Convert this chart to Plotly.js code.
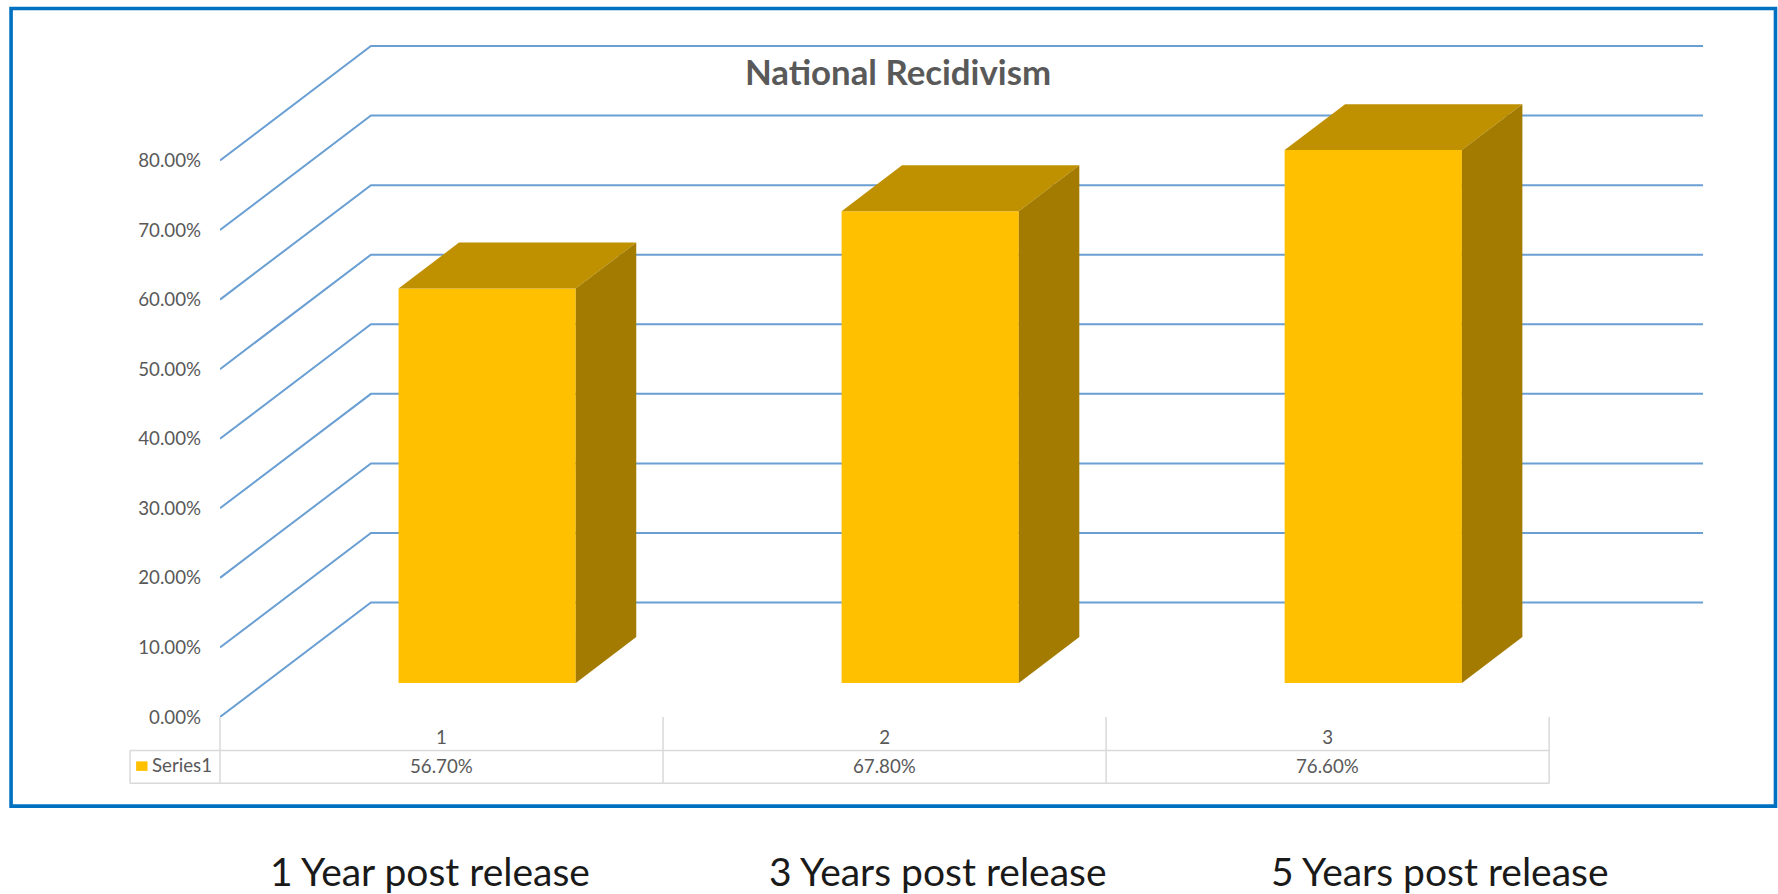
<!DOCTYPE html>
<html>
<head>
<meta charset="utf-8">
<script src="https://cdn.plot.ly/plotly-3.0.1.min.js"></script>
<style>html,body{margin:0;padding:0;background:#fff}#chart{width:1778px;height:894px}</style>
</head>
<body>
<div id="chart"></div>
<script>
// Data
var categories = [1, 2, 3];
var seriesName = 'Series1';
var seriesValues = [56.7, 67.8, 76.6];
var yTicks = [0, 10, 20, 30, 40, 50, 60, 70, 80];
var captions = ['1 Year post release', '3 Years post release', '5 Years post release'];
var chartTitle = 'National Recidivism';

// Page geometry (pixels)
var W = 1778, H = 894;
var plotL = 219.5, plotR = 1712, plotT = 30, plotB = 717.3;
var catPx = 443.2, pctPx = 6.96;

function paperX(p) { return (p - plotL) / (plotR - plotL); }
function paperY(p) { return (plotB - p) / (plotB - plotT); }
function dx(p) { return p / catPx; }
function dy(p) { return p / pctPx; }

var xMin = 0.5, xMax = xMin + (plotR - plotL) / catPx;
var yMax = (plotB - plotT) / pctPx;

// Pseudo-3D offsets expressed in axis units
var wallDx = dx(151), wallDy = dy(114.5), wallEnd = xMin + dx(1703 - plotL);
var baseLift = dy(34);
var barOffset = dx(-43), barWidth = dx(177.3);
var depthDx = dx(60.5), depthDy = dy(46);

var C = {front: '#ffc000', top: '#bf9000', side: '#a37b00', grid: '#6a9fd3', table: '#d9d9d9',
         text: '#595959', frame: '#0070c0'};
var FONT = 'Lato, sans-serif';

var traces = [{
  type: 'bar', name: seriesName, x: categories, y: seriesValues,
  base: baseLift, offset: barOffset, width: barWidth,
  marker: {color: C.front, line: {width: 0}},
  hovertemplate: '%{x}: %{y:.2f}%<extra></extra>'
}];

function face(xs, ys, color) {
  return {type: 'scatter', mode: 'lines', x: xs, y: ys, fill: 'toself', fillcolor: color,
          line: {width: 0, color: color}, hoverinfo: 'skip', showlegend: false};
}
categories.forEach(function (c, i) {
  var l = c + barOffset, r = l + barWidth, t = baseLift + seriesValues[i];
  traces.push(face([l, r, r + depthDx, l + depthDx, l], [t, t, t + depthDy, t + depthDy, t], C.top));
  traces.push(face([r, r + depthDx, r + depthDx, r, r],
                   [baseLift, baseLift + depthDy, t + depthDy, t, baseLift], C.side));
});

var shapes = [];
yTicks.forEach(function (t) {
  shapes.push({type: 'path', xref: 'x', yref: 'y', layer: 'below',
    path: 'M' + xMin + ',' + t + ' L' + (xMin + wallDx) + ',' + (t + wallDy) + ' L' + wallEnd + ',' + (t + wallDy),
    line: {color: C.grid, width: 2}});
});

// Data table under the plot
var rowTop = 750.7, rowBottom = 783.5, tableLeft = 129.5;
function tableLine(x0, y0, x1, y1) {
  return {type: 'line', xref: 'paper', yref: 'paper', x0: paperX(x0), x1: paperX(x1),
          y0: paperY(y0), y1: paperY(y1), line: {color: C.table, width: 1.5}};
}
[0, 1, 2, 3].forEach(function (k) {
  var xp = plotL + k * catPx;
  shapes.push(tableLine(xp, plotB, xp, rowBottom));
});
shapes.push(tableLine(tableLeft, rowTop, plotL + 3 * catPx, rowTop));
shapes.push(tableLine(tableLeft, rowBottom, plotL + 3 * catPx, rowBottom));
shapes.push(tableLine(tableLeft, rowTop, tableLeft, rowBottom));
// Legend key
shapes.push({type: 'rect', xref: 'paper', yref: 'paper', x0: paperX(135.6), x1: paperX(147),
             y0: paperY(771.2), y1: paperY(761.7), fillcolor: C.front, line: {width: 0}});
// Outer frame
shapes.push({type: 'rect', xref: 'paper', yref: 'paper', x0: paperX(10.5), x1: paperX(1775.5),
             y0: paperY(806.5), y1: paperY(8.5), fillcolor: 'rgba(0,0,0,0)',
             layer: 'below', line: {color: C.frame, width: 3.6}});

var annotations = [];
function note(text, xval, xref, ypx, size, color, anchor) {
  annotations.push({text: text, x: xval, xref: xref, y: paperY(ypx), yref: 'paper',
    xanchor: anchor || 'center', yanchor: 'middle', showarrow: false,
    font: {family: FONT, size: size, color: color}});
}
categories.forEach(function (c, i) {
  note(seriesValues[i].toFixed(2) + '%', c, 'x', 766.5, 18.7, C.text);
});
note(seriesName, paperX(149), 'paper', 765, 18.7, C.text, 'left');
var captionCx = [429.6, 938, 1439.6];
captions.forEach(function (t, i) {
  note(t, paperX(captionCx[i]), 'paper', 871.5, 39, '#1a1a1a');
});

var layout = {
  width: W, height: H, autosize: false,
  paper_bgcolor: '#ffffff', plot_bgcolor: 'rgba(0,0,0,0)',
  margin: {l: plotL, r: W - plotR, t: plotT, b: H - plotB, pad: 0},
  showlegend: false, barmode: 'overlay',
  title: {text: '<b>' + chartTitle + '</b>', x: 898 / W, xanchor: 'center', y: 1 - 72.6 / H, yanchor: 'middle',
          font: {family: FONT, size: 34.8, color: C.text}},
  xaxis: {range: [xMin, xMax], tickmode: 'array', tickvals: categories, ticktext: categories.map(String),
          showgrid: false, zeroline: false, showline: false, ticks: '',
          ticklabelstandoff: 7, tickfont: {family: FONT, size: 18.7, color: C.text}},
  yaxis: {range: [0, yMax], tickmode: 'array', tickvals: yTicks,
          ticktext: yTicks.map(function (t) { return t.toFixed(2) + '%'; }),
          showgrid: false, zeroline: false, showline: false, ticks: '',
          ticklabelstandoff: 18, tickfont: {family: FONT, size: 18.7, color: C.text}},
  shapes: shapes, annotations: annotations
};

Plotly.newPlot('chart', traces, layout, {displayModeBar: false, responsive: false});
</script>
</body>
</html>
